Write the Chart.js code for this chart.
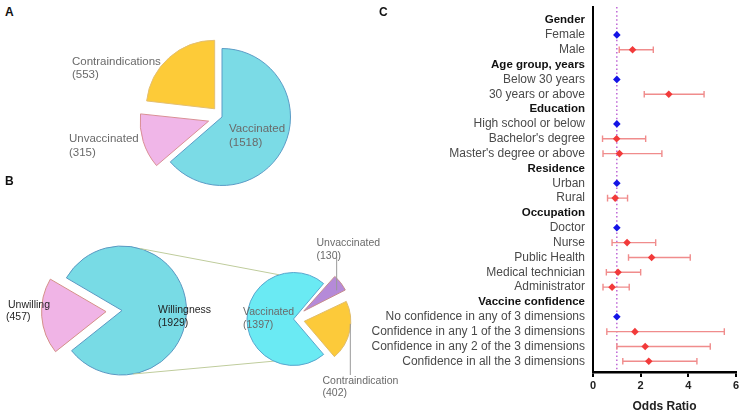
<!DOCTYPE html>
<html>
<head>
<meta charset="utf-8">
<script src="https://cdn.jsdelivr.net/npm/chart.js@4/dist/chart.umd.min.js"></script>
<style>
html,body{margin:0;padding:0;background:#fff;}
#wrap{position:relative;width:742px;height:417px;overflow:hidden;font-family:"Liberation Sans",Arial,sans-serif;background:#fff;}
#wrap canvas{position:absolute;}
.t{position:absolute;white-space:nowrap;}
.pa{font-size:11.5px;line-height:14px;color:#6a6a6a;}
.pb{font-size:10.5px;line-height:13px;color:#1e1e1e;}
.pc{font-size:10.5px;line-height:13px;color:#6a6a6a;}
.letter{font-size:12px;line-height:14px;font-weight:bold;color:#111;}
</style>
</head>
<body>
<div id="wrap"></div>
<script>
// ---------------- data ----------------
const pieALabels = ['Vaccinated', 'Unvaccinated', 'Contraindications'];
const pieAValues = [1518, 315, 553];

const pieB1Labels = ['Willingness', 'Unwilling'];
const pieB1Values = [1929, 457];

const pieB2Labels = ['Vaccinated', 'Unvaccinated', 'Contraindication'];
const pieB2Values = [1397, 130, 402];

const forestLabels = [
  'Gender', 'Female', 'Male',
  'Age group, years', 'Below 30 years', '30 years or above',
  'Education', 'High school or below', "Bachelor's degree", "Master's degree or above",
  'Residence', 'Urban', 'Rural',
  'Occupation', 'Doctor', 'Nurse', 'Public Health', 'Medical technician', 'Administrator',
  'Vaccine confidence', 'No confidence in any of 3 dimensions',
  'Confidence in any 1 of the 3 dimensions', 'Confidence in any 2 of the 3 dimensions',
  'Confidence in all the 3 dimensions'
];
const oddsRatio = [null, 1, 1.66, null, 1, 3.18, null, 1, 0.99, 1.11, null, 1, 0.93,
  null, 1, 1.43, 2.46, 1.05, 0.80, null, 1, 1.76, 2.19, 2.34];
const ciLower = [null, null, 1.10, null, null, 2.15, null, null, 0.40, 0.42, null, null, 0.61,
  null, null, 0.80, 1.49, 0.56, 0.42, null, null, 0.58, 1.00, 1.25];
const ciUpper = [null, null, 2.53, null, null, 4.66, null, null, 2.21, 2.89, null, null, 1.45,
  null, null, 2.63, 4.08, 2.00, 1.52, null, null, 5.51, 4.92, 4.36];
const oddsTicks = [0, 2, 4, 6];

// ---------------- setup ----------------
Chart.defaults.font.family = '"Liberation Sans", Arial, sans-serif';
Chart.defaults.animation = false;
Chart.defaults.responsive = false;
Chart.defaults.events = [];
Chart.defaults.plugins.legend.display = false;
Chart.defaults.plugins.tooltip.enabled = false;

const wrap = document.getElementById('wrap');
function makeCanvas(left, top, w, h, z) {
  const c = document.createElement('canvas');
  c.width = w; c.height = h;
  c.style.left = left + 'px'; c.style.top = top + 'px';
  c.style.width = w + 'px'; c.style.height = h + 'px';
  c.style.zIndex = z;
  wrap.appendChild(c);
  return c;
}
function addText(txt, cls, left, centerY, lh) {
  const d = document.createElement('div');
  d.className = 't ' + cls;
  d.textContent = txt;
  d.style.left = left + 'px';
  d.style.top = (centerY - lh / 2) + 'px';
  d.style.zIndex = 10;
  wrap.appendChild(d);
}

// Chart.js grows the radius of offset arcs; undo that so all slices share one radius
const offsetFix = {
  id: 'offsetFix',
  afterDatasetsUpdate(chart) {
    chart.getSortedVisibleDatasetMetas().forEach(meta => {
      meta.data.forEach(arc => {
        const o = ((arc.options && arc.options.offset) || 0) / 4;
        const c = arc.endAngle - arc.startAngle;
        const fix = 1 - Math.sin(Math.min(Math.PI, c));
        arc.outerRadius = arc.outerRadius - o * fix;
      });
    });
  }
};

// ---------------- Panel A ----------------
const cA = makeCanvas(122, 17, 200, 200, 1);
new Chart(cA, {
  type: 'pie',
  data: {
    labels: pieALabels,
    datasets: [{
      data: pieAValues,
      backgroundColor: ['#7BDBE6', '#F0B6E8', '#FDCB38'],
      borderColor: ['#5B9CC6', '#D98F95', '#E3BF72'],
      borderWidth: 1,
      offset: [0, 56, 44],
      clip: false
    }]
  },
  options: { radius: 68.5, rotation: 0, layout: { padding: 0 } },
  plugins: [offsetFix]
});

// ---------------- Panel B ----------------
const cB1 = makeCanvas(0, 195, 380, 222, 1);
const chartB1 = new Chart(cB1, {
  type: 'pie',
  data: {
    labels: pieB1Labels,
    datasets: [{
      data: pieB1Values,
      backgroundColor: ['#78DBE5', '#F0B4E6'],
      borderColor: ['#5A98C2', '#D49088'],
      borderWidth: 1,
      offset: [0, 64],
      clip: false
    }]
  },
  options: { radius: 64.5, rotation: 300.4, layout: { padding: { left: 0, right: 136, top: 9, bottom: 0 } } },
  plugins: [offsetFix]
});

const deg = Math.PI / 180;
const bDecor = {
  id: 'bDecor',
  beforeDatasetsDraw(chart) {
    const a1 = chartB1.getDatasetMeta(0).data[0];
    const a2 = chart.getDatasetMeta(0).data[0];
    const r1 = a1.outerRadius, r2 = a2.outerRadius;
    const p = (a, r, d) => [a.x + r * Math.cos(d * deg), a.y + r * Math.sin(d * deg)];
    const ctx = chart.ctx;
    ctx.save();
    ctx.strokeStyle = '#bfcc9c';
    ctx.lineWidth = 1;
    const s1 = p(a1, r1, -74), e1 = p(a2, r2, -108);
    const s2 = p(a1, r1, 80), e2 = p(a2, r2, 115);
    ctx.beginPath();
    ctx.moveTo(s1[0], s1[1]); ctx.lineTo(e1[0], e1[1]);
    ctx.moveTo(s2[0], s2[1]); ctx.lineTo(e2[0], e2[1]);
    ctx.stroke();
    ctx.restore();
  },
  afterDatasetsDraw(chart) {
    const arcs = chart.getDatasetMeta(0).data;
    const ctx = chart.ctx;
    const edge = (arc, t) => {
      const mid = (arc.startAngle + arc.endAngle) / 2;
      const o = (arc.options.offset || 0) / 4;
      const a = arc.startAngle + t * (arc.endAngle - arc.startAngle);
      return [arc.x + o * Math.cos(mid) + arc.outerRadius * Math.cos(a),
              arc.y + o * Math.sin(mid) + arc.outerRadius * Math.sin(a)];
    };
    ctx.save();
    ctx.strokeStyle = '#9a9a9a';
    ctx.lineWidth = 1;
    const u = edge(arcs[1], 0.72);
    const c = edge(arcs[2], 0.38);
    ctx.beginPath();
    ctx.moveTo(u[0], u[1]); ctx.lineTo(u[0], 62);
    ctx.moveTo(c[0], c[1]); ctx.lineTo(c[0], 180);
    ctx.stroke();
    ctx.restore();
  }
};

const cB2 = makeCanvas(0, 195, 380, 222, 2);
new Chart(cB2, {
  type: 'pie',
  data: {
    labels: pieB2Labels,
    datasets: [{
      data: pieB2Values,
      backgroundColor: ['#6AEAF3', '#B58AD8', '#FCCA3A'],
      borderColor: ['#58A6CE', '#C48C8C', '#E0BC6A'],
      borderWidth: 1,
      offset: [0, 52, 44],
      clip: false
    }]
  },
  options: { radius: 46.5, rotation: 139.6, layout: { padding: { left: 207, right: 0, top: 26, bottom: 0 } } },
  plugins: [offsetFix, bDecor]
});

// ---------------- Panel C (forest plot) ----------------
const estPoints = [], refPoints = [];
oddsRatio.forEach((v, i) => {
  if (v == null) return;
  if (ciLower[i] == null) refPoints.push({ x: v, y: i });
  else estPoints.push({ x: v, y: i });
});

const errorBars = {
  id: 'errorBars',
  beforeDatasetsDraw(chart) {
    const { ctx, chartArea } = chart;
    const x = chart.scales.x, y = chart.scales.y;
    ctx.save();
    const x1 = x.getPixelForValue(1);
    ctx.strokeStyle = '#b44fcf';
    ctx.lineWidth = 1.3;
    ctx.setLineDash([1.5, 2.6]);
    ctx.beginPath();
    ctx.moveTo(x1, chartArea.top);
    ctx.lineTo(x1, chartArea.bottom);
    ctx.stroke();
    ctx.setLineDash([]);
    ctx.strokeStyle = '#f08c8c';
    ctx.lineWidth = 1.4;
    forestLabels.forEach((_, i) => {
      if (ciLower[i] == null) return;
      const yy = y.getPixelForValue(i);
      const a = x.getPixelForValue(ciLower[i]);
      const b = x.getPixelForValue(ciUpper[i]);
      ctx.beginPath();
      ctx.moveTo(a, yy); ctx.lineTo(b, yy);
      ctx.moveTo(a, yy - 3.3); ctx.lineTo(a, yy + 3.3);
      ctx.moveTo(b, yy - 3.3); ctx.lineTo(b, yy + 3.3);
      ctx.stroke();
    });
    ctx.restore();
  }
};

const cF = makeCanvas(330, 0, 412, 417, 3);
new Chart(cF, {
  type: 'scatter',
  data: {
    datasets: [
      { data: estPoints, pointStyle: 'rectRot', pointRadius: 3.8, backgroundColor: '#f23a3a', borderColor: '#f23a3a', borderWidth: 0 },
      { data: refPoints, pointStyle: 'rectRot', pointRadius: 3.8, backgroundColor: '#1414e6', borderColor: '#1414e6', borderWidth: 0 }
    ]
  },
  options: {
    layout: { padding: { top: 0, right: 6, left: 0, bottom: 0 } },
    scales: {
      x: {
        type: 'linear', position: 'bottom', min: 0, max: 6,
        afterBuildTicks: s => { s.ticks = oddsTicks.map(v => ({ value: v })); },
        ticks: { font: { size: 11, weight: 'bold' }, color: '#222', padding: 2, maxRotation: 0 },
        grid: { display: true, drawOnChartArea: false, drawTicks: true, tickLength: 5, color: '#000', lineWidth: 2 },
        border: { display: true, color: '#000', width: 2.5 },
        title: { display: true, text: 'Odds Ratio', font: { size: 12, weight: 'bold' }, color: '#222', padding: { top: 0, bottom: 3 } },
        afterFit: s => { s.height = 45; }
      },
      y: {
        type: 'linear', reverse: true, min: -0.88, max: 23.72,
        afterBuildTicks: s => { s.ticks = forestLabels.map((_, i) => ({ value: i })); },
        ticks: {
          autoSkip: false, padding: 8,
          callback: v => forestLabels[v],
          font: c => (oddsRatio[c.index] == null ? { size: 11.5, weight: 'bold' } : { size: 12, weight: 'normal' }),
          color: c => (oddsRatio[c.index] == null ? '#111' : '#4a4a4a')
        },
        grid: { display: false, drawTicks: false },
        border: { display: true, color: '#000', width: 2 },
        afterFit: s => { s.width = 263; s.paddingTop = 7; s.paddingBottom = 0; }
      }
    }
  },
  plugins: [errorBars]
});

// ---------------- texts ----------------
addText('A', 'letter', 5, 11.5, 14);
addText('B', 'letter', 5, 181, 14);
addText('C', 'letter', 379, 11.5, 14);

addText(pieALabels[2], 'pa', 72, 61, 14);
addText('(' + pieAValues[2] + ')', 'pa', 72, 74, 14);
addText(pieALabels[1], 'pa', 69, 137.5, 14);
addText('(' + pieAValues[1] + ')', 'pa', 69, 152, 14);
addText(pieALabels[0], 'pa', 229, 127.5, 14);
addText('(' + pieAValues[0] + ')', 'pa', 229, 142, 14);

addText(pieB1Labels[1], 'pb', 8, 304, 13);
addText('(' + pieB1Values[1] + ')', 'pb', 6, 316.5, 13);
addText(pieB1Labels[0], 'pb', 158, 309, 13);
addText('(' + pieB1Values[0] + ')', 'pb', 158, 322, 13);

addText(pieB2Labels[0], 'pc', 243, 311, 13);
addText('(' + pieB2Values[0] + ')', 'pc', 243, 324.5, 13);
addText(pieB2Labels[1], 'pc', 316.5, 242.5, 13);
addText('(' + pieB2Values[1] + ')', 'pc', 316.5, 255, 13);
addText(pieB2Labels[2], 'pc', 322.5, 380, 13);
addText('(' + pieB2Values[2] + ')', 'pc', 322.5, 392, 13);
</script>
</body>
</html>
